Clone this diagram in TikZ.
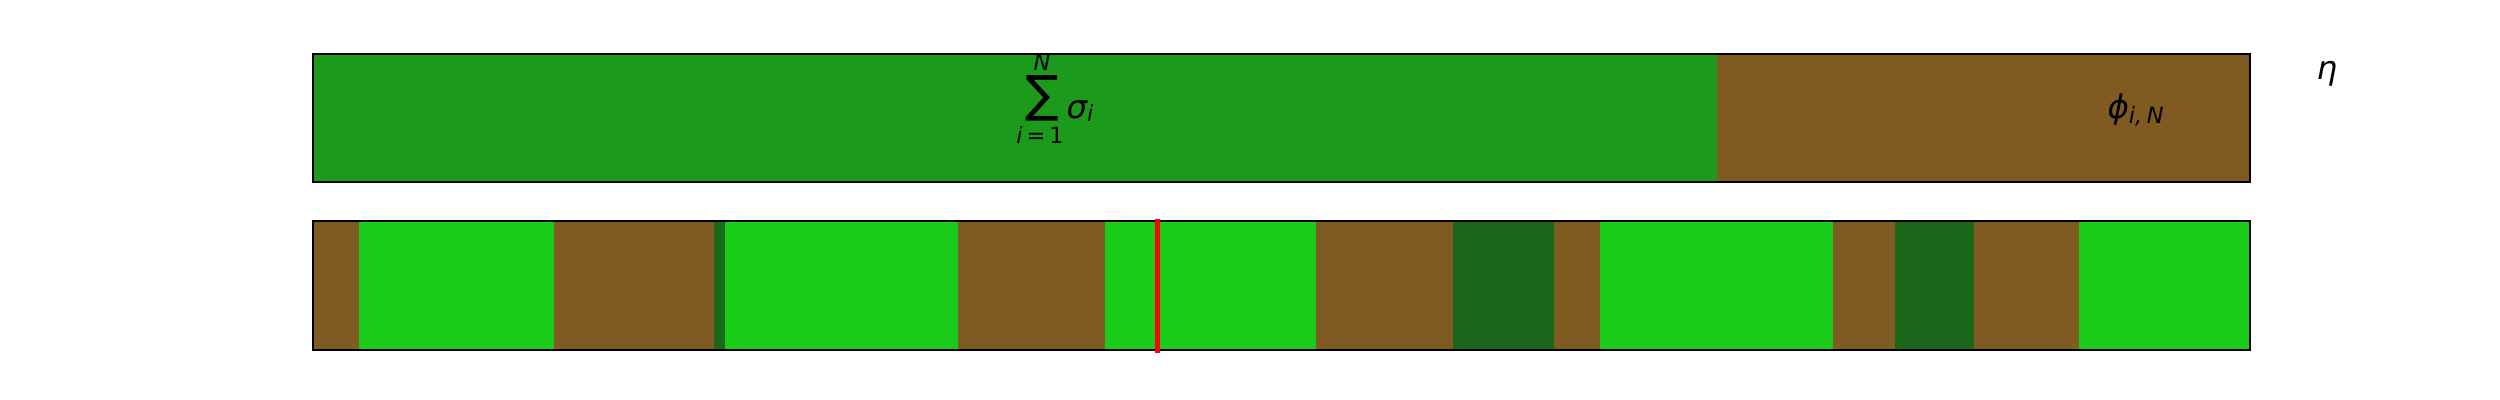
\documentclass[tikz,border=0pt]{standalone}
\usepackage{fontspec}
\newfontfamily\dv{DejaVu Sans}
\definecolor{topgreen}{RGB}{28,154,28}
\definecolor{litegreen}{RGB}{25,204,25}
\definecolor{brn}{RGB}{127,90,33}
\definecolor{dkgreen}{RGB}{27,104,27}
\tikzset{
  barframe/.style={draw=black,line width=0.8pt},
  lbl/.style={inner sep=0pt,font=\dv\itshape\fontsize{13}{13}\selectfont},
  smalllbl/.style={inner sep=0pt,font=\dv\fontsize{9}{9}\selectfont},
  marker/.style={draw=red,line width=2.2pt}
}
\newcommand{\seg}[3]{\fill[#1] (#2,221) rectangle (#3,350);}
\begin{document}
\begin{tikzpicture}[x=0.4pt,y=-0.4pt]
\useasboundingbox (0,0) rectangle (2500,400);
% top bar
\fill[topgreen] (313,53.5) rectangle (1717,182);
\fill[brn] (1717,53.5) rectangle (2250,182);
\draw[barframe] (313,53.5) rectangle (2250,182);
% bottom bar
\seg{brn}{313}{359}
\seg{litegreen}{359}{554}
\seg{brn}{554}{714}
\seg{dkgreen}{714}{725}
\seg{litegreen}{725}{958}
\seg{brn}{958}{1105}
\seg{litegreen}{1105}{1316}
\seg{brn}{1316}{1453}
\seg{dkgreen}{1453}{1554}
\seg{brn}{1554}{1600}
\seg{litegreen}{1600}{1833}
\seg{brn}{1833}{1895}
\seg{dkgreen}{1895}{1974}
\seg{brn}{1974}{2079}
\seg{litegreen}{2079}{2250}
\draw[barframe] (313,221) rectangle (2250,350);
% red marker
\coordinate (mtop) at (1157.5,219);
\coordinate (mbot) at (1157.5,353);
\draw[marker] (mtop) -- (mbot);
% labels
\node[inner sep=0pt,font=\dv\fontsize{20}{20}\selectfont] (sum) at (1042,98.5) {∑};
\node[smalllbl,font=\dv\itshape\fontsize{9}{9}\selectfont] (sumN) at (1042,62) {N};
\node[smalllbl] (sumi) at (1040,135) {\itshape i\upshape\hspace{0.18em}=\hspace{0.18em}1};
\node[lbl,anchor=base west] (sigma) at (1066,118) {σ\raisebox{-1.5pt}{\fontsize{9}{9}\selectfont i}};
\node[lbl,anchor=base west] (phi) at (2107,118) {ϕ\raisebox{-2pt}{\fontsize{9}{9}\selectfont i,\hspace{0.2em}N}};
\node[lbl,anchor=base] (eta) at (2327,79) {η};
\end{tikzpicture}
\end{document}
